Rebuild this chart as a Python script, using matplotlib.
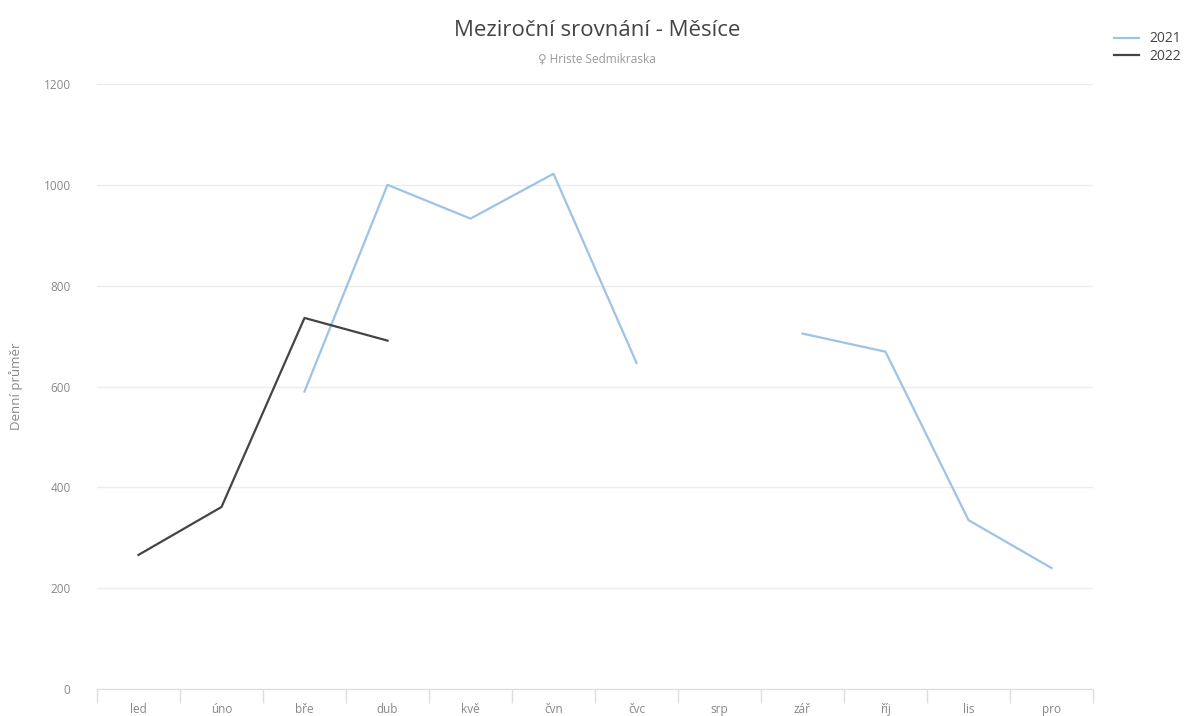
import numpy as np
import matplotlib.pyplot as plt

plt.rcParams['font.family'] = ['Open Sans', 'DejaVu Sans']

months = ["led", "úno", "bře", "dub", "kvě", "čvn", "čvc", "srp", "zář", "říj", "lis", "pro"]
y2021 = [np.nan, np.nan, 590, 1000, 933, 1022, 647, np.nan, 705, 669, 335, 240]
y2022 = [266, 361, 736, 691, np.nan, np.nan, np.nan, np.nan, np.nan, np.nan, np.nan, np.nan]

fig = plt.figure(figsize=(11.84, 7.16), dpi=100)
ax = fig.add_axes([97/1184, 1-689/716, (1093-97)/1184, (689-84)/716])

x = np.arange(len(months))
l1, = ax.plot(x, y2021, color="#9dc3e6", linewidth=1.6, label="2021")
l2, = ax.plot(x, y2022, color="#444444", linewidth=1.6, label="2022")

ax.set_xlim(-0.5, len(months) - 0.5)
ax.set_ylim(0, 1200)
ax.set_yticks(range(0, 1201, 200))
ax.yaxis.grid(True, color="#ececec", linewidth=1)
ax.set_axisbelow(True)

ax.set_xticks(x)
ax.set_xticklabels(months)
ax.set_xticks(np.arange(-0.5, len(months)), minor=True)
ax.tick_params(axis="x", which="major", length=0, pad=10, labelsize=8.5, labelcolor="#888888")
ax.tick_params(axis="x", which="minor", length=10, color="#dddddd", width=1)
ax.tick_params(axis="y", length=0, pad=19, labelsize=8.5, labelcolor="#888888")

for s in ["top", "right", "left"]:
    ax.spines[s].set_visible(False)
ax.spines["bottom"].set_color("#dddddd")

ax.set_ylabel("Denní průměr", color="#888888", fontsize=9.5)
ax.yaxis.set_label_coords(-74/996, 0.5)

fig.text(597/1184, 1-31/716, "Meziroční srovnání - Měsíce", ha="center", va="center",
         fontsize=16, color="#444444")
fig.text(597/1184, 1-59/716, "♀ Hriste Sedmikraska", ha="center", va="center",
         fontsize=8.5, color="#999999")

fig.legend(handles=[l1, l2], loc="upper right", bbox_to_anchor=(1194/1184, 1-19/716),
           frameon=False, fontsize=10, handlelength=1.8, labelspacing=0.2,
           labelcolor="#444444")

fig.savefig("out.png", dpi=100)
